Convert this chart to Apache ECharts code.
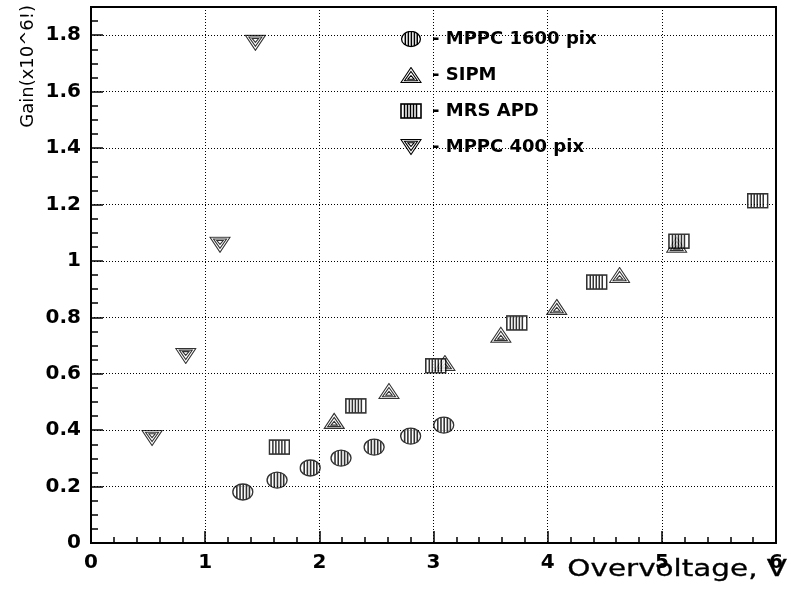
<!DOCTYPE html>
<html>
<head>
<meta charset="utf-8">
<script src="https://cdn.jsdelivr.net/npm/echarts@6/dist/echarts.min.js"></script>
<style>
  html, body { margin: 0; padding: 0; background: #fff; }
  #main { width: 794px; height: 590px; }
</style>
</head>
<body>
<div id="main"></div>
<script>
// data
var mppc1600X = [1.33, 1.63, 1.92, 2.19, 2.48, 2.80, 3.09];
var mppc1600Y = [0.181, 0.223, 0.266, 0.301, 0.340, 0.379, 0.418];
var sipmX = [2.13, 2.61, 3.10, 3.59, 4.08, 4.63, 5.13];
var sipmY = [0.433, 0.539, 0.638, 0.738, 0.837, 0.950, 1.057];
var apdX = [1.65, 2.32, 3.02, 3.73, 4.43, 5.15, 5.84];
var apdY = [0.340, 0.486, 0.628, 0.780, 0.925, 1.070, 1.213];
var mppc400X = [0.535, 0.83, 1.13, 1.44];
var mppc400Y = [0.372, 0.663, 1.057, 1.773];
var seriesNames = ['MPPC 1600 pix', 'SIPM', 'MRS APD', 'MPPC 400 pix'];

function pairs(xs, ys) {
    return xs.map(function (x, i) { return [x, ys[i]]; });
}

function img(svg) {
    return 'image://data:image/svg+xml;utf8,' + encodeURIComponent(svg);
}

// striped ellipse
var circleSym = img(
    "<svg xmlns='http://www.w3.org/2000/svg' width='22' height='18' viewBox='0 0 22 18'>" +
    "<defs><clipPath id='c'><ellipse cx='11' cy='9' rx='10' ry='8'/></clipPath></defs>" +
    "<ellipse cx='11' cy='9' rx='10' ry='8' fill='#fff'/>" +
    "<g clip-path='url(#c)' stroke='#000' stroke-width='1.6'>" +
    "<line x1='5' y1='0' x2='5' y2='18'/><line x1='8.2' y1='0' x2='8.2' y2='18'/>" +
    "<line x1='11.4' y1='0' x2='11.4' y2='18'/><line x1='14.6' y1='0' x2='14.6' y2='18'/>" +
    "<line x1='17.6' y1='0' x2='17.6' y2='18'/></g>" +
    "<ellipse cx='11' cy='9' rx='10' ry='8' fill='none' stroke='#000' stroke-width='1.4'/></svg>"
);

// hatched triangle
var triSym = img(
    "<svg xmlns='http://www.w3.org/2000/svg' width='22' height='17' viewBox='0 0 22 17'>" +
    "<g fill='none' stroke='#000' stroke-width='1.1'>" +
    "<polygon points='11,1 21,16 1,16'/>" +
    "<polygon points='11,5 17.5,14.3 4.5,14.3'/>" +
    "<polygon points='11,9 14.2,12.8 7.8,12.8'/></g></svg>"
);

// striped square
var rectSym = img(
    "<svg xmlns='http://www.w3.org/2000/svg' width='22' height='16' viewBox='0 0 22 16'>" +
    "<rect x='1' y='1' width='20' height='14' fill='#fff' stroke='#000' stroke-width='1.6'/>" +
    "<g stroke='#000' stroke-width='1.5'>" +
    "<line x1='4.5' y1='1' x2='4.5' y2='15'/><line x1='7.5' y1='1' x2='7.5' y2='15'/>" +
    "<line x1='10.5' y1='1' x2='10.5' y2='15'/><line x1='13.5' y1='1' x2='13.5' y2='15'/>" +
    "<line x1='16.5' y1='1' x2='16.5' y2='15'/></g></svg>"
);

// hatched inverted triangle
var invSym = img(
    "<svg xmlns='http://www.w3.org/2000/svg' width='22' height='17' viewBox='0 0 22 17'>" +
    "<g fill='none' stroke='#000' stroke-width='1.1'>" +
    "<polygon points='1,1 21,1 11,16'/>" +
    "<polygon points='4.5,2.7 17.5,2.7 11,12'/>" +
    "<polygon points='7.8,4.2 14.2,4.2 11,8'/></g></svg>"
);

var chart = echarts.init(document.getElementById('main'));

chart.setOption({
    backgroundColor: '#fff',
    animation: false,
    legend: {
        orient: 'vertical',
        left: 395,
        top: 25,
        itemWidth: 22,
        itemHeight: 17,
        itemGap: 18,
        itemStyle: { opacity: 1 },
        textStyle: {
            fontFamily: 'DejaVu Sans',
            fontWeight: 'bold',
            fontSize: 18,
            color: '#000',
            padding: [0, 0, 0, 5]
        },
        formatter: function (name) { return '- ' + name; },
        data: seriesNames
    },
    grid: {
        left: 91,
        right: 18,
        top: 7,
        bottom: 47,
        show: true,
        borderColor: '#000',
        borderWidth: 2,
        backgroundColor: 'transparent'
    },
    xAxis: {
        type: 'value',
        min: 0,
        max: 6,
        interval: 1,
        axisLine: { show: true, lineStyle: { color: '#000', width: 2 } },
        axisTick: { show: true, inside: true, length: 12, lineStyle: { color: '#000', width: 1.5 } },
        minorTick: { show: true, splitNumber: 5, length: 6, lineStyle: { color: '#000', width: 1.5 } },
        splitLine: { show: true, lineStyle: { color: '#000', width: 1, type: [1, 2] } },
        axisLabel: {
            margin: 10,
            fontFamily: 'DejaVu Sans',
            fontWeight: 'bold',
            fontSize: 20,
            color: '#000'
        }
    },
    yAxis: {
        type: 'value',
        min: 0,
        max: 1.9,
        interval: 0.2,
        axisLine: { show: true, lineStyle: { color: '#000', width: 2 } },
        axisTick: { show: true, inside: true, length: 12, lineStyle: { color: '#000', width: 1.5 } },
        minorTick: { show: true, splitNumber: 4, length: 7, lineStyle: { color: '#000', width: 1.5 } },
        splitLine: { show: true, lineStyle: { color: '#000', width: 1, type: [1, 2] } },
        axisLabel: {
            margin: 10,
            fontFamily: 'DejaVu Sans',
            fontWeight: 'bold',
            fontSize: 20,
            color: '#000',
            formatter: function (v) {
                if (v > 1.85) return '';
                return String(Math.round(v * 10) / 10);
            }
        }
    },
    graphic: [{
        type: 'text',
        x: 787,
        y: 570,
        scaleX: 1.28,
        style: {
            text: 'Overvoltage, V',
            fontFamily: 'DejaVu Sans',
            fontSize: 23,
            fill: '#000',
            stroke: '#000',
            lineWidth: 0.3,
            align: 'right',
            verticalAlign: 'middle'
        }
    }, {
        type: 'text',
        x: 28,
        y: 5,
        rotation: Math.PI / 2,
        style: {
            text: 'Gain(x10^6!)',
            fontFamily: 'DejaVu Sans',
            fontSize: 18,
            fill: '#000',
            align: 'right',
            verticalAlign: 'middle'
        }
    }],
    series: [{
        name: seriesNames[0],
        type: 'scatter',
        symbol: circleSym,
        symbolSize: [22, 18],
        data: pairs(mppc1600X, mppc1600Y)
    }, {
        name: seriesNames[1],
        type: 'scatter',
        symbol: triSym,
        symbolSize: [22, 17],
        data: pairs(sipmX, sipmY)
    }, {
        name: seriesNames[2],
        type: 'scatter',
        symbol: rectSym,
        symbolSize: [22, 16],
        data: pairs(apdX, apdY)
    }, {
        name: seriesNames[3],
        type: 'scatter',
        symbol: invSym,
        symbolSize: [22, 17],
        data: pairs(mppc400X, mppc400Y)
    }]
});
</script>
</body>
</html>
